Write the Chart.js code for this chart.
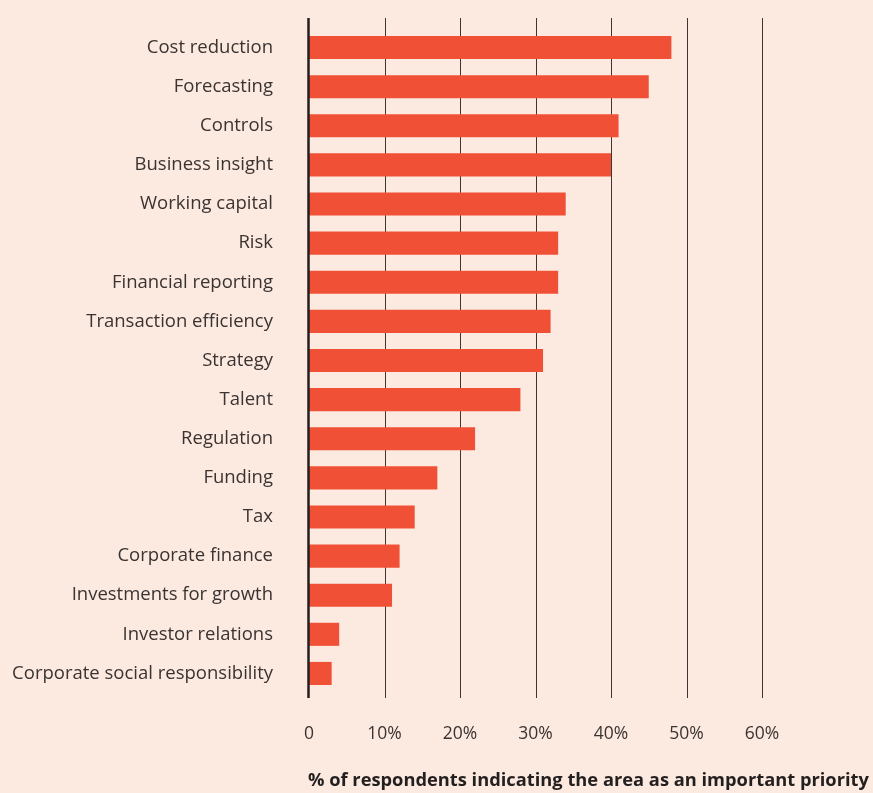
<!DOCTYPE html>
<html>
<head>
<meta charset="utf-8">
<script src="https://cdn.jsdelivr.net/npm/chart.js@4/dist/chart.umd.min.js"></script>
<style>
  html, body { margin: 0; padding: 0; background: #fceae1; }
  #wrap { width: 873px; height: 793px; position: relative; }
</style>
</head>
<body>
<div id="wrap"><canvas id="c" width="873" height="793"></canvas></div>
<script>
const categories = [
  "Cost reduction", "Forecasting", "Controls", "Business insight",
  "Working capital", "Risk", "Financial reporting", "Transaction efficiency",
  "Strategy", "Talent", "Regulation", "Funding", "Tax",
  "Corporate finance", "Investments for growth", "Investor relations",
  "Corporate social responsibility"
];
const values = [48, 45, 41, 40, 34, 33, 33, 32, 31, 28, 22, 17, 14, 12, 11, 4, 3];
const xTicks = [0, 10, 20, 30, 40, 50, 60];
const axisTitle = "% of respondents indicating the area as an important priority";

const gridPlugin = {
  id: 'customGrid',
  beforeDatasetsDraw(chart) {
    const { ctx, chartArea, scales } = chart;
    const top = chartArea.top - 10, bottom = chartArea.bottom + 5;
    ctx.save();
    ctx.strokeStyle = '#3f3634';
    ctx.lineWidth = 1;
    xTicks.forEach(v => {
      if (v === 0) return;
      const x = Math.round(scales.x.getPixelForValue(v)) + 0.5;
      ctx.beginPath(); ctx.moveTo(x, top); ctx.lineTo(x, bottom); ctx.stroke();
    });
    ctx.restore();
  },
  afterDatasetsDraw(chart) {
    const { ctx, chartArea, scales } = chart;
    const top = chartArea.top - 10, bottom = chartArea.bottom + 5;
    const x = scales.x.getPixelForValue(0);
    ctx.save();
    ctx.strokeStyle = '#231f1e';
    ctx.lineWidth = 2.5;
    ctx.beginPath(); ctx.moveTo(x - 0.5, top); ctx.lineTo(x - 0.5, bottom); ctx.stroke();
    ctx.restore();
  },
  afterDraw(chart) {
    const { ctx, chartArea } = chart;
    ctx.save();
    ctx.fillStyle = '#231f1e';
    ctx.font = "bold 18.3px 'Open Sans'";
    ctx.textAlign = 'left';
    ctx.textBaseline = 'middle';
    ctx.fillText(axisTitle, chartArea.left - 1, chartArea.bottom + 88);
    ctx.restore();
  }
};

new Chart(document.getElementById('c'), {
  type: 'bar',
  data: {
    labels: categories,
    datasets: [{
      data: values,
      backgroundColor: '#f05036',
      borderWidth: 0,
      categoryPercentage: 1.0,
      barPercentage: 0.59
    }]
  },
  options: {
    indexAxis: 'y',
    responsive: false,
    animation: false,
    devicePixelRatio: 1,
    layout: { padding: { top: 28, right: 111, left: 0, bottom: 0 } },
    plugins: { legend: { display: false }, tooltip: { enabled: false } },
    scales: {
      x: {
        type: 'linear',
        min: 0, max: 60,
        afterBuildTicks(scale) { scale.ticks = xTicks.map(v => ({ value: v })); },
        grid: { display: false, drawTicks: false },
        border: { display: false },
        ticks: {
          padding: 31,
          color: '#3a3331',
          font: { family: 'Open Sans', size: 17.5 },
          callback: v => v === 0 ? '0' : v + '%'
        },
        title: { display: false },
        afterFit(scale) { scale.height = 100; scale.paddingLeft = 0; scale.paddingRight = 0; }
      },
      y: {
        grid: { display: false, drawTicks: false },
        border: { display: false },
        ticks: {
          padding: 36,
          color: '#3a3331',
          font: { family: 'Open Sans', size: 18.5 }
        },
        afterFit(scale) { scale.width = 309; scale.paddingTop = 0; scale.paddingBottom = 0; }
      }
    }
  },
  plugins: [gridPlugin]
});
</script>
</body>
</html>
